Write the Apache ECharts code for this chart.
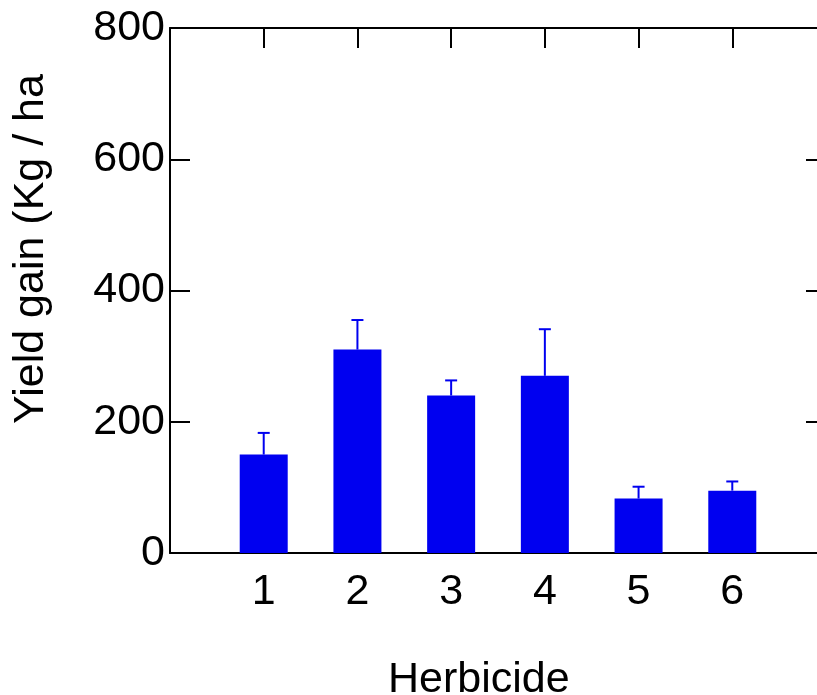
<!DOCTYPE html>
<html>
<head>
<meta charset="utf-8">
<script src="https://cdn.jsdelivr.net/npm/echarts@6/dist/echarts.min.js"></script>
<style>
  html, body { margin: 0; padding: 0; background: #fff; }
  #chart { width: 817px; height: 695px; }
</style>
</head>
<body>
<div id="chart"></div>
<script>
// Herbicide treatments and their mean yield gain (kg/ha) with upper error
const categories = [1, 2, 3, 4, 5, 6];
const yieldGain = [150, 310, 240, 270, 83, 95];
const errorUpper = [33, 45, 23, 71, 18, 14];
const yTicks = [0, 200, 400, 600, 800];

const FONT = 'Liberation Sans, Arial, sans-serif';
const BLUE = '#0000f0';
const axisLineStyle = { color: '#000', width: 2 };

const chart = echarts.init(document.getElementById('chart'), null, { renderer: 'canvas' });

const barData = categories.map((c, i) => [c, yieldGain[i]]);
const errData = categories.map((c, i) => [c, yieldGain[i], errorUpper[i]]);

chart.setOption({
  animation: false,
  backgroundColor: '#fff',
  grid: { left: 170, top: 28, width: 656, height: 525, containLabel: false, outerBoundsMode: 'none' },
  xAxis: [
    {
      type: 'value', min: 0, max: categories.length + 1, interval: 1, position: 'bottom',
      axisLine: { show: true, onZero: false, lineStyle: axisLineStyle },
      axisTick: { show: false },
      splitLine: { show: false },
      axisLabel: {
        fontSize: 43, color: '#000', fontFamily: FONT, margin: 18,
        formatter: v => (categories.indexOf(v) >= 0 ? String(v) : '')
      }
    },
    {
      type: 'value', min: 0, max: categories.length + 1, interval: 1, position: 'top',
      axisLine: { show: true, onZero: false, lineStyle: axisLineStyle },
      axisTick: { show: true, inside: true, length: 20, lineStyle: axisLineStyle },
      splitLine: { show: false },
      axisLabel: { show: false }
    }
  ],
  yAxis: [
    {
      type: 'value', min: yTicks[0], max: yTicks[yTicks.length - 1], interval: yTicks[1] - yTicks[0],
      position: 'left',
      axisLine: { show: true, onZero: false, lineStyle: axisLineStyle },
      axisTick: { show: true, inside: true, length: 20, lineStyle: axisLineStyle },
      splitLine: { show: false },
      axisLabel: { fontSize: 43, color: '#000', fontFamily: FONT, margin: 5, padding: [6, 0, 0, 0] }
    },
    {
      type: 'value', min: yTicks[0], max: yTicks[yTicks.length - 1], interval: yTicks[1] - yTicks[0],
      position: 'right',
      axisLine: { show: true, onZero: false, lineStyle: axisLineStyle },
      axisTick: { show: true, inside: true, length: 20, lineStyle: axisLineStyle },
      splitLine: { show: false },
      axisLabel: { show: false }
    }
  ],
  series: [
    {
      type: 'bar', xAxisIndex: 0, yAxisIndex: 0,
      data: barData, barWidth: 48,
      itemStyle: { color: BLUE }
    },
    {
      type: 'custom', xAxisIndex: 0, yAxisIndex: 0, z: 3,
      data: errData,
      renderItem: function (params, api) {
        const x = api.value(0), y = api.value(1), e = api.value(2);
        const base = api.coord([x, y]);
        const top = api.coord([x, y + e]);
        const style = { stroke: BLUE, lineWidth: 2 };
        return {
          type: 'group',
          children: [
            { type: 'line', shape: { x1: base[0], y1: base[1], x2: top[0], y2: top[1] }, style: style },
            { type: 'line', shape: { x1: top[0] - 6, y1: top[1], x2: top[0] + 6, y2: top[1] }, style: style }
          ]
        };
      }
    }
  ],
  graphic: [
    {
      type: 'text', left: 388, top: 659,
      style: { text: 'Herbicide', fontSize: 43, fill: '#000', fontFamily: FONT }
    },
    {
      type: 'text', x: 31, y: 249, rotation: Math.PI / 2,
      style: { text: 'Yield gain (Kg / ha', fontSize: 43, fill: '#000', fontFamily: FONT,
               align: 'center', verticalAlign: 'middle' }
    }
  ]
});
</script>
</body>
</html>
